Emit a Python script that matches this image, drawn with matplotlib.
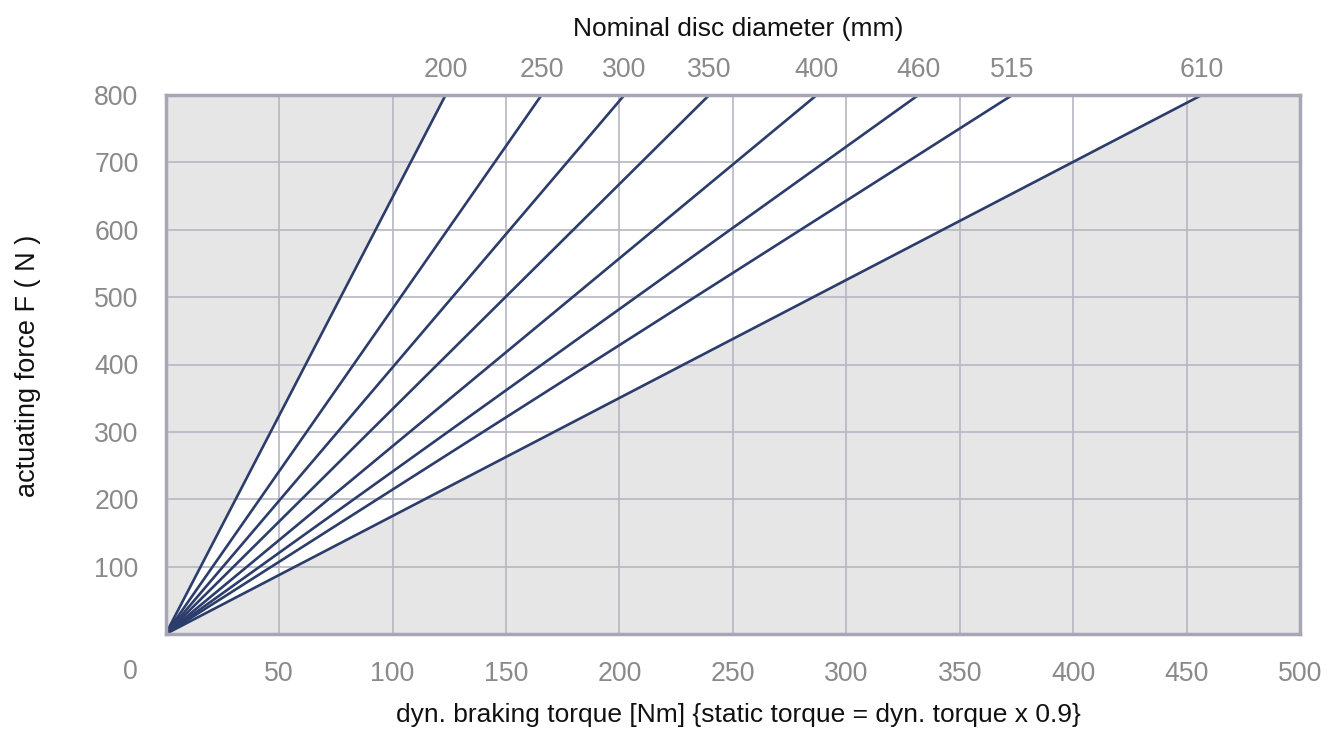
import matplotlib

matplotlib.use("Agg")
import matplotlib.pyplot as plt

# dyn. braking torque (Nm) reached at 800 N for each nominal disc diameter
DIAMETERS = ["200", "250", "300", "350", "400", "460", "515", "610"]
TORQUE_AT_800N = [123.4, 165.7, 202.2, 239.6, 287.0, 331.8, 373.2, 456.7]
FORCE_MAX = 800

X_TICKS = [50, 100, 150, 200, 250, 300, 350, 400, 450, 500]
Y_TICKS = [100, 200, 300, 400, 500, 600, 700, 800]

LINE_COLOR = "#2c3d6c"
GRID_COLOR = "#b6b6c6"
FRAME_COLOR = "#a6a6b6"
SHADE_COLOR = "#e6e6e6"
TICK_COLOR = "#8a8a8a"
TITLE_COLOR = "#111111"
TICK_SIZE = 19.2
TITLE_SIZE = 19

plt.rcParams["font.family"] = ["Liberation Sans", "DejaVu Sans"]


def main() -> None:
    width, height = 1335, 729
    fig = plt.figure(figsize=(width / 100, height / 100), dpi=100)
    ax = fig.add_axes([0.1241, 0.1303, 0.9738 - 0.1241, 0.8697 - 0.1303])

    ax.set_facecolor(SHADE_COLOR)
    ax.set_xlim(0, 500)
    ax.set_ylim(0, FORCE_MAX)

    # white band between the smallest and the largest disc
    ax.fill(
        [0, TORQUE_AT_800N[0], TORQUE_AT_800N[-1]],
        [0, FORCE_MAX, FORCE_MAX],
        color="white",
        zorder=1,
    )

    ax.set_xticks(X_TICKS)
    ax.set_yticks(Y_TICKS)
    ax.grid(True, color=GRID_COLOR, linewidth=1.2, zorder=2)
    ax.set_axisbelow(False)

    for torque in TORQUE_AT_800N:
        ax.plot([0, torque], [0, FORCE_MAX], color=LINE_COLOR, linewidth=1.9,
                solid_capstyle="butt", zorder=3)

    for spine in ax.spines.values():
        spine.set_color(FRAME_COLOR)
        spine.set_linewidth(2.5)
        spine.set_zorder(4)

    ax.tick_params(axis="x", length=0, pad=19.3, labelsize=TICK_SIZE, labelcolor=TICK_COLOR)
    ax.tick_params(axis="y", length=0, pad=19.5, labelsize=TICK_SIZE, labelcolor=TICK_COLOR)
    ax.annotate("0", xy=(0, 0), xytext=(-28, -45), textcoords="offset pixels",
                ha="right", va="baseline", fontsize=TICK_SIZE, color=TICK_COLOR)

    top = ax.twiny()
    top.set_xlim(ax.get_xlim())
    top.set_xticks(TORQUE_AT_800N)
    top.set_xticklabels(DIAMETERS)
    top.tick_params(axis="x", length=0, pad=8.3, labelsize=TICK_SIZE, labelcolor=TICK_COLOR)
    for spine in top.spines.values():
        spine.set_visible(False)

    fig.text(738 / width, 1 - 36 / height, "Nominal disc diameter (mm)",
             ha="center", va="baseline", fontsize=TITLE_SIZE, color=TITLE_COLOR)
    fig.text(738 / width, 1 - 722 / height,
             "dyn. braking torque [Nm] {static torque = dyn. torque x 0.9}",
             ha="center", va="baseline", fontsize=TITLE_SIZE, color=TITLE_COLOR)
    fig.text(28 / width, 1 - 366 / height, "actuating force F ( N )", rotation=90,
             ha="center", va="center", fontsize=19.5, color=TITLE_COLOR)

    fig.savefig("out.png")
    plt.close(fig)


if __name__ == "__main__":
    main()
